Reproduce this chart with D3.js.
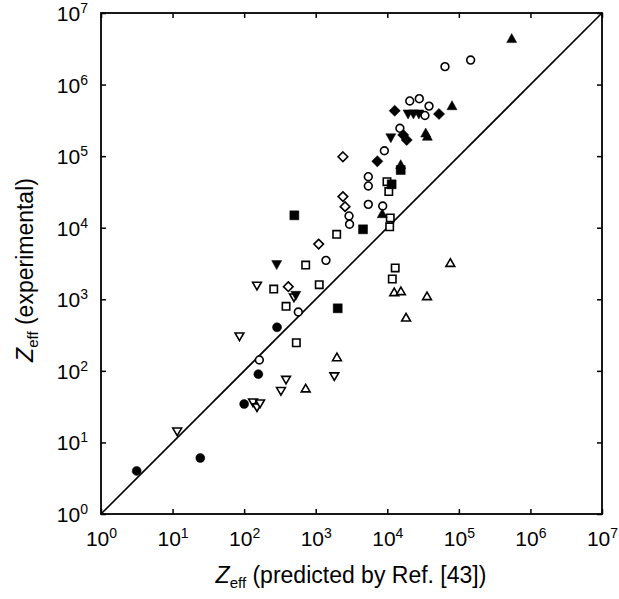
<!DOCTYPE html>
<html>
<head>
<meta charset="utf-8">
<script src="https://cdn.jsdelivr.net/npm/d3@7"></script>
<style>
body { margin: 0; background: #fff; }
svg { display: block; }
text { font-family: "Liberation Sans", Arial, sans-serif; fill: #000; }
</style>
</head>
<body>
<script>
// values, [predicted, experimental]
var filledCircles = [[3.15, 4.0], [24.4, 6.06], [100, 34.4], [288, 406], [158, 90]]
var openCircles = [[163, 142], [571, 664], [1390, 3500], [2920, 14600], [2970, 11200],
  [5430, 51600], [5430, 38300], [5430, 21200], [8630, 20100], [9100, 119000],
  [15000, 245000], [20600, 590000], [28000, 635000], [38300, 500000], [33600, 370000],
  [64000, 1780000], [146000, 2200000]]
var openSquares = [[259, 1390], [385, 798], [536, 247], [724, 3010], [1120, 1600],
  [1964, 8090], [9900, 44000], [10500, 32000], [11000, 13700], [10800, 10300],
  [12900, 2740], [11750, 1920]]
var filledSquares = [[503, 14900], [2030, 748], [4580, 9500], [11500, 40400], [15400, 64000]]
var openDiamonds = [[414, 1500], [1100, 5900], [2400, 98000], [2400, 27200], [2570, 19700]]
var filledDiamonds = [[7260, 84700], [12700, 431000], [52800, 388000], [16700, 198000], [18700, 168000]]
var openUp = [[724, 56], [1980, 153], [12500, 1240], [15500, 1280], [35900, 1090],
  [76000, 3180], [18300, 548]]
var filledUp = [[8500, 15500], [34400, 208000], [36300, 187000], [80200, 500000],
  [547000, 4330000], [15400, 75000]]
var filledDown = [[285, 3090], [527, 1150], [11200, 183000], [19500, 394000],
  [23200, 394000], [27600, 394000]]
var openDown = [[11.6, 14.4], [133, 36.7], [151, 31.3], [167, 35.5], [327, 53], [385, 76],
  [1820, 85], [86, 307], [151, 1570], [497, 1077]]

var tickValues = [1, 10, 100, 1e3, 1e4, 1e5, 1e6, 1e7]
var tickExps = ["0", "1", "2", "3", "4", "5", "6", "7"]

var width = 619, height = 599
var svg = d3.select("body").append("svg").attr("width", width).attr("height", height)

var x = d3.scaleLog().domain([1, 1e7]).range([101, 602])
var y = d3.scaleLog().domain([1, 1e7]).range([514, 13])

// marker shapes
function circlePath(r) {
  return "M" + r + ",0A" + r + "," + r + " 0 1,1 " + (-r) + ",0A" + r + "," + r + " 0 1,1 " + r + ",0Z"
}
function squarePath(s) { var h = s / 2; return "M" + (-h) + "," + (-h) + "H" + h + "V" + h + "H" + (-h) + "Z" }
function diamondPath(s) { return "M0," + (-s) + "L" + s + ",0L0," + s + "L" + (-s) + ",0Z" }
function upPath(w, h) { return "M0," + (-h * 0.6) + "L" + w + "," + (h * 0.4) + "L" + (-w) + "," + (h * 0.4) + "Z" }
function downPath(w, h) { return "M0," + (h * 0.6) + "L" + w + "," + (-h * 0.4) + "L" + (-w) + "," + (-h * 0.4) + "Z" }

// diagonal y = x
svg.append("line")
  .attr("x1", x(1)).attr("y1", y(1)).attr("x2", x(1e7)).attr("y2", y(1e7))
  .attr("stroke", "#000").attr("stroke-width", 1.6)

var series = [
  {data: openSquares, path: squarePath(7.4), fill: "#fff"},
  {data: openCircles, path: circlePath(3.9), fill: "#fff"},
  {data: openDiamonds, path: diamondPath(4.8), fill: "#fff"},
  {data: openUp, path: upPath(4.4, 7.6), fill: "#fff"},
  {data: openDown, path: downPath(4.4, 7.6), fill: "#fff"},
  {data: filledCircles, path: circlePath(4.5), fill: "#000"},
  {data: filledSquares, path: squarePath(9), fill: "#000"},
  {data: filledDiamonds, path: diamondPath(5.6), fill: "#000"},
  {data: filledUp, path: upPath(5, 9), fill: "#000"},
  {data: filledDown, path: downPath(5, 9), fill: "#000"}
]

series.forEach(function(s) {
  svg.append("g").selectAll("path")
    .data(s.data)
    .enter().append("path")
    .attr("d", s.path)
    .attr("transform", function(d) { return "translate(" + x(d[0]) + "," + y(d[1]) + ")" })
    .attr("fill", s.fill)
    .attr("stroke", "#000")
    .attr("stroke-width", s.fill == "#fff" ? 1.6 : 0.5)
})

// frame
svg.append("rect")
  .attr("x", 101).attr("y", 13).attr("width", 501).attr("height", 501)
  .attr("fill", "none").attr("stroke", "#000").attr("stroke-width", 1.8)

// inward ticks on all four sides
function addAxis(axis, tx, ty) {
  var g = svg.append("g").attr("transform", "translate(" + tx + "," + ty + ")")
    .call(axis.tickValues(tickValues).tickSize(-5).tickFormat(""))
  g.select(".domain").remove()
  g.selectAll(".tick line").attr("stroke-width", 1.5)
  return g
}
var gb = addAxis(d3.axisBottom(x), 0, 514)
addAxis(d3.axisTop(x), 0, 13)
var gl = addAxis(d3.axisLeft(y), 101, 0)
addAxis(d3.axisRight(y), 602, 0)

function powLabel(t, i) {
  t.append("tspan").text("10")
  t.append("tspan").attr("font-size", 14).attr("dy", -8).text(tickExps[i])
}

gb.selectAll(".tick").each(function(d, i) {
  var t = d3.select(this).append("text")
    .attr("y", 32).attr("text-anchor", "middle").attr("font-size", 21)
  powLabel(t, i)
})
gl.selectAll(".tick").each(function(d, i) {
  var t = d3.select(this).append("text")
    .attr("x", -13).attr("y", 7.5).attr("text-anchor", "end").attr("font-size", 21)
  powLabel(t, i)
})

// axis titles
var xt = svg.append("text").attr("x", 351).attr("y", 583)
  .attr("text-anchor", "middle").attr("font-size", 23)
xt.append("tspan").attr("font-style", "italic").text("Z")
xt.append("tspan").attr("font-size", 15).attr("dy", 5).text("eff")
xt.append("tspan").attr("dy", -5).text(" (predicted by Ref. [43])")

var yt = svg.append("text").attr("transform", "translate(33,270) rotate(-90)")
  .attr("text-anchor", "middle").attr("font-size", 23)
yt.append("tspan").attr("font-style", "italic").text("Z")
yt.append("tspan").attr("font-size", 15).attr("dy", 5).text("eff")
yt.append("tspan").attr("dy", -5).text(" (experimental)")
</script>
</body>
</html>
